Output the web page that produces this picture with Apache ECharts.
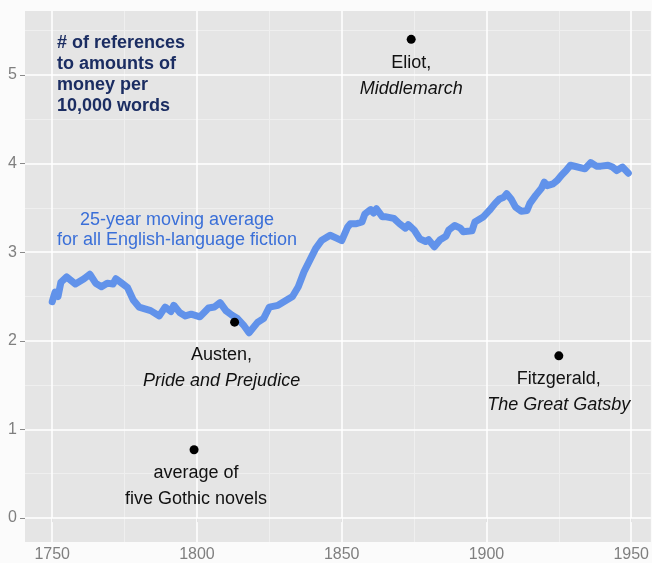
<!DOCTYPE html>
<html>
	<head>
		<meta charset="utf-8">
		<title></title>
		<script src="https://cdn.jsdelivr.net/npm/echarts@6/dist/echarts.min.js"></script>
		<style>
			body{margin:0;background:#fbfbfb;}
		</style>
	</head>
	<body>
		<div id="my" style="width: 652px;height: 563px;"></div>

		<script>
			var myChart = echarts.init(document.getElementById('my'));

			// 25-year moving average
			var years = [1750,1751,1752,1753,1755,1758,1761,1763,1765,1767,1769,1771,1772,1774,1776,1778,1780,1784,1787,1789,
				1791,1792,1794,1796,1798,1801,1804,1806,1808,1810,1812,1814,1816,1818,1821,1823,1825,1828,1831,1833,
				1835,1837,1839,1841,1843,1845,1846,1848,1850,1852,1853,1855,1857,1858,1860,1861,1862,1864,1865,1868,
				1870,1872,1873,1875,1877,1879,1880,1882,1884,1886,1887,1889,1891,1892,1895,1896,1899,1901,1903,1904.5,
				1906,1907,1908.5,1910,1912,1914,1915,1917,1919,1920,1921,1923,1924.5,1926,1927.5,1929,1931.5,1934,1936,1938,
				1939.5,1942,1943.5,1945,1947,1949];
			var values = [2.44,2.55,2.50,2.66,2.72,2.64,2.70,2.75,2.65,2.61,2.65,2.64,2.70,2.65,2.60,2.46,2.38,2.34,2.28,2.38,
				2.33,2.40,2.32,2.28,2.30,2.27,2.37,2.38,2.43,2.34,2.29,2.25,2.18,2.09,2.21,2.25,2.38,2.40,2.46,2.50,
				2.61,2.78,2.91,3.04,3.13,3.17,3.19,3.16,3.13,3.28,3.32,3.32,3.34,3.43,3.48,3.44,3.49,3.40,3.40,3.38,
				3.32,3.27,3.31,3.25,3.15,3.12,3.14,3.06,3.14,3.18,3.25,3.30,3.27,3.23,3.24,3.34,3.40,3.47,3.55,3.60,
				3.62,3.66,3.60,3.51,3.46,3.47,3.55,3.64,3.72,3.79,3.75,3.77,3.81,3.87,3.92,3.98,3.96,3.94,4.01,3.97,
				3.97,3.98,3.96,3.92,3.96,3.89];

			// single novels
			var bookYears = [1874, 1813, 1799, 1925];
			var bookValues = [5.40, 2.21, 0.77, 1.83];
			var bookAuthors = ['Eliot,', 'Austen,', 'average of', 'Fitzgerald,'];
			var bookTitles = ['Middlemarch', 'Pride and Prejudice', 'five Gothic novels', 'The Great Gatsby'];
			var bookItalic = [true, true, false, true];

			var xTicks = [1750, 1800, 1850, 1900, 1950];
			var xMinor = [1775, 1825, 1875, 1925];
			var yTicks = [0, 1, 2, 3, 4, 5];
			var yMinor = [0.5, 1.5, 2.5, 3.5, 4.5, 5.5];

			var font = 'Liberation Sans, Arial, sans-serif';

			var lineData = years.map(function (y, i) { return [y, values[i]]; });
			var bookData = bookYears.map(function (y, i) {
				var item = {value: [y, bookValues[i], bookAuthors[i], bookTitles[i], bookItalic[i]]};
				if (i === 1) {//Austen label sits a bit lower and to the left
					item.label = {offset: [-13, 9]};
				}
				if (i === 2) {
					item.label = {offset: [2, 0]};
				}
				return item;
			});

			var gridLines = [];
			xMinor.forEach(function (v) { gridLines.push({xAxis: v, lineStyle: {color: '#efefef', width: 1, type: 'solid'}}); });
			yMinor.forEach(function (v) { gridLines.push({yAxis: v, lineStyle: {color: '#efefef', width: 1, type: 'solid'}}); });
			xTicks.forEach(function (v) { gridLines.push({xAxis: v, lineStyle: {color: '#ffffff', width: 1.5, type: 'solid'}}); });
			yTicks.forEach(function (v) { gridLines.push({yAxis: v, lineStyle: {color: '#ffffff', width: 1.5, type: 'solid'}}); });

			var option = {
				backgroundColor: '#fbfbfb',
				animation: false,
				textStyle: {fontFamily: font},
				grid: {
					left: 25,
					right: 0,
					top: 11,
					bottom: 21,
					show: true,
					backgroundColor: '#e5e5e5',
					borderWidth: 0
				},
				graphic: [
					{
						type: 'text',
						left: 57,
						top: 33,
						z: 10,
						style: {
							text: '# of references\nto amounts of\nmoney per\n10,000 words',
							fill: '#1b2d62',
							fontSize: 18,
							fontWeight: 'bold',
							fontFamily: font,
							lineHeight: 21
						}
					},
					{
						type: 'text',
						x: 177,
						y: 210,
						z: 10,
						style: {
							text: '25-year moving average\nfor all English-language fiction',
							fill: '#3a6fd8',
							fontSize: 18,
							fontFamily: font,
							align: 'center',
							verticalAlign: 'top',
							lineHeight: 20
						}
					}
				],
				xAxis: {
					type: 'value',
					min: 1740.6,
					max: 1956.8,
					axisLine: {show: false},
					axisTick: {show: true, customValues: xTicks, length: 4, lineStyle: {color: '#8a8a8a'}},
					axisLabel: {
						customValues: xTicks, color: '#7f7f7f', fontSize: 16, margin: 5, fontFamily: font,
						formatter: function (v) { return String(v); }
					},
					splitLine: {show: false}
				},
				yAxis: {
					type: 'value',
					min: -0.27,
					max: 5.72,
					axisLine: {show: false},
					axisTick: {show: true, customValues: yTicks, length: 5, lineStyle: {color: '#8a8a8a'}},
					axisLabel: {customValues: yTicks, color: '#7f7f7f', fontSize: 16, margin: 8, fontFamily: font},
					splitLine: {show: false}
				},
				series: [
					{//grid lines
						type: 'line',
						data: [],
						z: 1,
						silent: true,
						markLine: {
							silent: true,
							z: 1,
							symbol: 'none',
							label: {show: false},
							emphasis: {disabled: true},
							animation: false,
							data: gridLines
						}
					},
					{
						name: '25-year moving average',
						type: 'line',
						z: 3,
						data: lineData,
						showSymbol: false,
						symbol: 'none',
						lineStyle: {color: '#6192ea', width: 7, join: 'round', cap: 'round'}
					},
					{
						name: 'novels',
						type: 'scatter',
						z: 4,
						data: bookData,
						symbolSize: 9,
						itemStyle: {color: '#000000', opacity: 1},
						label: {
							show: true,
							position: 'bottom',
							distance: 6,
							opacity: 1,
							formatter: function (p) {
								var t = p.value[4] ? '{it|' + p.value[3] + '}' : '{n|' + p.value[3] + '}';
								return '{n|' + p.value[2] + '}\n' + t;
							},
							rich: {
								n: {fontSize: 18, color: '#111111', lineHeight: 26, fontFamily: font, align: 'center'},
								it: {fontSize: 18, color: '#111111', lineHeight: 26, fontFamily: font, fontStyle: 'italic', align: 'center'}
							}
						}
					}
				]
			};

			myChart.setOption(option);
		</script>
	</body>
</html>
